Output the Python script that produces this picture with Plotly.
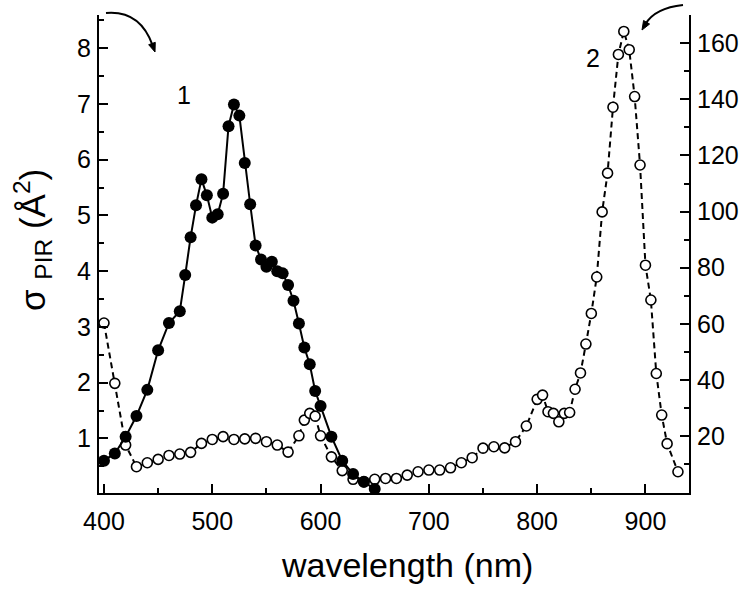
import math
import plotly.graph_objects as go

# ---- data ----
wl_1 = [400, 410, 420, 430, 440, 450, 460, 470, 475, 480, 485, 490, 495, 500, 505, 510,
        515, 520, 525, 530, 535, 540, 545, 550, 555, 560, 565, 570, 575, 580, 585, 590,
        595, 600, 610, 620, 630, 640, 650]
sigma_1 = [0.60, 0.73, 1.03, 1.40, 1.87, 2.58, 3.07, 3.28, 3.93, 4.61, 5.18, 5.65, 5.36, 4.96,
           5.02, 5.39, 6.60, 6.99, 6.79, 5.94, 5.20, 4.46, 4.21, 4.08, 4.17, 4.00, 3.96, 3.75,
           3.47, 3.06, 2.63, 2.33, 1.85, 1.58, 1.03, 0.60, 0.36, 0.22, 0.09]

wl_2 = [400, 410, 420, 430, 440, 450, 460, 470, 480, 490, 500, 510, 520, 530, 540, 550, 560,
        570, 580, 585, 590, 595, 600, 610, 620, 630, 640, 650, 660, 670, 680, 690, 700, 710,
        720, 730, 740, 750, 760, 770, 780, 790, 800, 805, 810, 815, 820, 825, 830, 835, 840,
        845, 850, 855, 860, 865, 870, 875, 880, 885, 890, 895, 900, 905, 910, 915, 920, 930]
sigma_2 = [60.3, 38.8, 16.8, 9.1, 10.5, 11.7, 13.1, 13.6, 14.2, 17.4, 18.8, 19.8, 18.8, 19.0,
           19.2, 18.0, 16.8, 14.3, 20.1, 25.7, 28.1, 27.1, 20.1, 12.6, 7.7, 4.6, 3.7, 4.6, 4.9,
           4.9, 6.1, 7.3, 7.9, 7.9, 8.7, 10.5, 12.3, 15.7, 16.2, 15.8, 18.0, 23.6, 33.1, 34.6,
           28.7, 28.1, 25.1, 28.1, 28.4, 36.7, 42.5, 52.8, 63.7, 76.7, 99.9, 113.7, 137.2,
           156.0, 164.2, 157.7, 141.0, 116.6, 80.9, 68.5, 42.3, 27.5, 17.3, 7.3]

x_ticks = [400, 500, 600, 700, 800, 900]
left_ticks = [1, 2, 3, 4, 5, 6, 7, 8]
right_ticks = [20, 40, 60, 80, 100, 120, 140, 160]

# ---- layout geometry (pixels) ----
W, H = 750, 589
L, R, T, B = 99, 689, 15, 493
FONT = "Liberation Sans, Arial, sans-serif"


def px(xp, yp):
    return (xp - L) / (R - L), (B - yp) / (B - T)


fig = go.Figure()

fig.add_trace(go.Scatter(
    x=wl_2, y=sigma_2, yaxis="y", mode="lines+markers", cliponaxis=False,
    line=dict(color="black", width=2, dash="6px,4px"),
    marker=dict(symbol="circle", size=10, color="white",
                line=dict(color="black", width=1.6)),
    showlegend=False,
))
fig.add_trace(go.Scatter(
    x=wl_1, y=sigma_1, yaxis="y2", mode="lines+markers", cliponaxis=False,
    line=dict(color="black", width=2),
    marker=dict(symbol="circle", size=12, color="black"),
    showlegend=False,
))

axis_common = dict(
    showline=True, linecolor="black", linewidth=2, showgrid=False, zeroline=False,
    ticks="inside", ticklen=9, tickwidth=2, tickcolor="black",
    tickfont=dict(family=FONT, size=25, color="black"),
)

fig.update_layout(
    width=W, height=H,
    margin=dict(l=L, r=W - R, t=T, b=H - B, pad=0),
    paper_bgcolor="white", plot_bgcolor="white",
    xaxis=dict(range=[395.4, 940.2], tickmode="array", tickvals=x_ticks,
               ticklabelstandoff=5,
               minor=dict(tickvals=[450, 550, 650, 750, 850], ticks="inside",
                          ticklen=5, tickwidth=2, tickcolor="black"),
               **axis_common),
    yaxis=dict(range=[-0.28, 170.06], side="right", tickmode="array",
               tickvals=right_ticks, ticklabelstandoff=1,
               minor=dict(tickvals=[10, 30, 50, 70, 90, 110, 130, 150, 170],
                          ticks="inside", ticklen=5, tickwidth=2, tickcolor="black"),
               **axis_common),
    yaxis2=dict(range=[0.02, 8.595], side="left", overlaying="y", tickmode="array",
                tickvals=left_ticks, ticklabelstandoff=1,
                minor=dict(tickvals=[0.5, 1.5, 2.5, 3.5, 4.5, 5.5, 6.5, 7.5, 8.5],
                           ticks="inside", ticklen=5, tickwidth=2, tickcolor="black"),
                **axis_common),
)

# axis titles
tx, ty = px(407, 565)
fig.add_annotation(xref="paper", yref="paper", x=tx, y=ty, showarrow=False,
                   text="wavelength (nm)", font=dict(family=FONT, size=34, color="black"),
                   xanchor="center", yanchor="middle")
tx, ty = px(32, 240)
fig.add_annotation(xref="paper", yref="paper", x=tx, y=ty, showarrow=False, textangle=-90,
                   text="σ <sub>PIR</sub> (Å<sup>2</sup>)",
                   font=dict(family=FONT, size=35, color="black"),
                   xanchor="center", yanchor="middle")

# curve labels
for lbl, (lx, ly) in (("1", (184, 95)), ("2", (593, 58))):
    ax_, ay_ = px(lx, ly)
    fig.add_annotation(xref="paper", yref="paper", x=ax_, y=ay_, showarrow=False, text=lbl,
                       font=dict(family=FONT, size=25, color="black"),
                       xanchor="center", yanchor="middle")

# curved arrows pointing to the axes (pixel geometry converted to paper units)
arrows = [((106, 13), (140, 10), (155, 52)),
          ((683, 5), (655, 8), (642, 30))]
for p0, c, p2 in arrows:
    a = px(*p0); b = px(*c); e = px(*p2)
    dx, dy = p2[0] - c[0], p2[1] - c[1]
    n = math.hypot(dx, dy)
    ux, uy = dx / n, dy / n
    hl, hw = 9, 3.5
    bx, by = p2[0] - ux * hl, p2[1] - uy * hl
    shaft_end = px(bx + ux * 2, by + uy * 2)
    fig.add_shape(type="path", xref="paper", yref="paper",
                  path=f"M {a[0]},{a[1]} Q {b[0]},{b[1]} {shaft_end[0]},{shaft_end[1]}",
                  line=dict(color="black", width=2))
    l1 = px(bx - uy * hw, by + ux * hw)
    l2 = px(bx + uy * hw, by - ux * hw)
    fig.add_shape(type="path", xref="paper", yref="paper",
                  path=f"M {e[0]},{e[1]} L {l1[0]},{l1[1]} L {l2[0]},{l2[1]} Z",
                  fillcolor="black", line=dict(color="black", width=1))

fig.write_html("out.html", config={"displayModeBar": False},
               post_script="document.body.style.margin='0';")
